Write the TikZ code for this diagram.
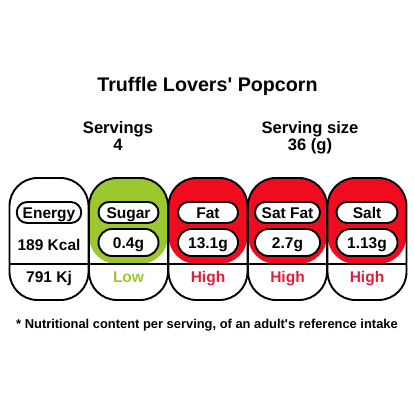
\documentclass[tikz,border=0pt]{standalone}
\usepackage{fontspec}
\setmainfont{Liberation Sans}[Ligatures=TeXOff]
\usepackage{tikz}
\definecolor{lowgreen}{RGB}{155,200,45}
\definecolor{highred}{RGB}{240,12,30}
\definecolor{hightext}{RGB}{230,28,58}
\begin{document}
\begin{tikzpicture}[x=1pt, y=-1pt,
  panel/.style = {draw, line width=1.9pt, rounded corners=28pt, minimum width=79pt, minimum height=122pt, inner sep=0pt,
    path picture={\fill[#1] (path picture bounding box.north west) rectangle ([yshift=-25pt]path picture bounding box.east);
      \draw[line width=1.9pt] ([yshift=-25pt]path picture bounding box.west) -- ([yshift=-25pt]path picture bounding box.east);}},
  panel/.default = white,
  pill/.style = {draw, fill=white, line width=1.9pt, rounded corners=10.5pt, minimum width=#1, minimum height=21pt, inner xsep=6pt, inner ysep=0pt, text height=11.1pt, text depth=0pt, font=\bfseries\fontsize{15.5}{16}\selectfont},
  pill/.default = 60pt,
  val/.style = {pill=#1, minimum height=27pt, rounded corners=13.5pt},
  val/.default = 60pt,
  txt/.style = {inner sep=0pt, text height=11.1pt, text depth=0pt, font=\bfseries\fontsize{15.5}{16}\selectfont}]
  \useasboundingbox (0,0) rectangle (414,414);
  \node[anchor=base, font=\bfseries\fontsize{19.7}{20}\selectfont] (title) at (207.5,92) {Truffle Lovers' Popcorn};
  \node[anchor=base, font=\bfseries\fontsize{16.6}{17}\selectfont] (servings) at (118,133.5) {Servings};
  \node[anchor=base, font=\bfseries\fontsize{16.6}{17}\selectfont] (servnum) at (118,150) {4};
  \node[anchor=base, font=\bfseries\fontsize{16.6}{17}\selectfont] (size) at (310,133.5) {Serving size};
  \node[anchor=base, font=\bfseries\fontsize{16.6}{17}\selectfont] (sizenum) at (310,150) {36 (g)};

  \node[panel] (energy) at (49,239) {};
  \node[panel=lowgreen] (sugar) at (128.5,239) {};
  \node[panel=highred] (fat) at (208,239) {};
  \node[panel=highred] (satfat) at (287.5,239) {};
  \node[panel=highred] (salt) at (367,239) {};

  \node[pill=64pt] (energyname) at (49,212.5) {Energy};
  \node[txt] (kcal) at (49,244.5) {189 Kcal};
  \node[txt] (kj) at (49,276.5) {791 Kj};

  \node[pill] (sugarname) at (128.5,212.5) {Sugar};
  \node[val] (sugarval) at (128.5,242.5) {0.4g};
  \node[txt, text=lowgreen] (sugarlvl) at (128.5,276.5) {Low};

  \node[pill] (fatname) at (208,212.5) {Fat};
  \node[val] (fatval) at (208,242.5) {13.1g};
  \node[txt, text=hightext] (fatlvl) at (208,276.5) {High};

  \node[pill=65pt] (satfatname) at (287.5,212.5) {Sat Fat};
  \node[val=65pt] (satfatval) at (287.5,242.5) {2.7g};
  \node[txt, text=hightext] (satfatlvl) at (287.5,276.5) {High};

  \node[pill=61pt] (saltname) at (367,212.5) {Salt};
  \node[val=61pt] (saltval) at (367,242.5) {1.13g};
  \node[txt, text=hightext] (saltlvl) at (367,276.5) {High};

  \node[anchor=base, font=\bfseries\fontsize{12.9}{13}\selectfont] (note) at (207,328) {* Nutritional content per serving, of an adult's reference intake};
\end{tikzpicture}
\end{document}
